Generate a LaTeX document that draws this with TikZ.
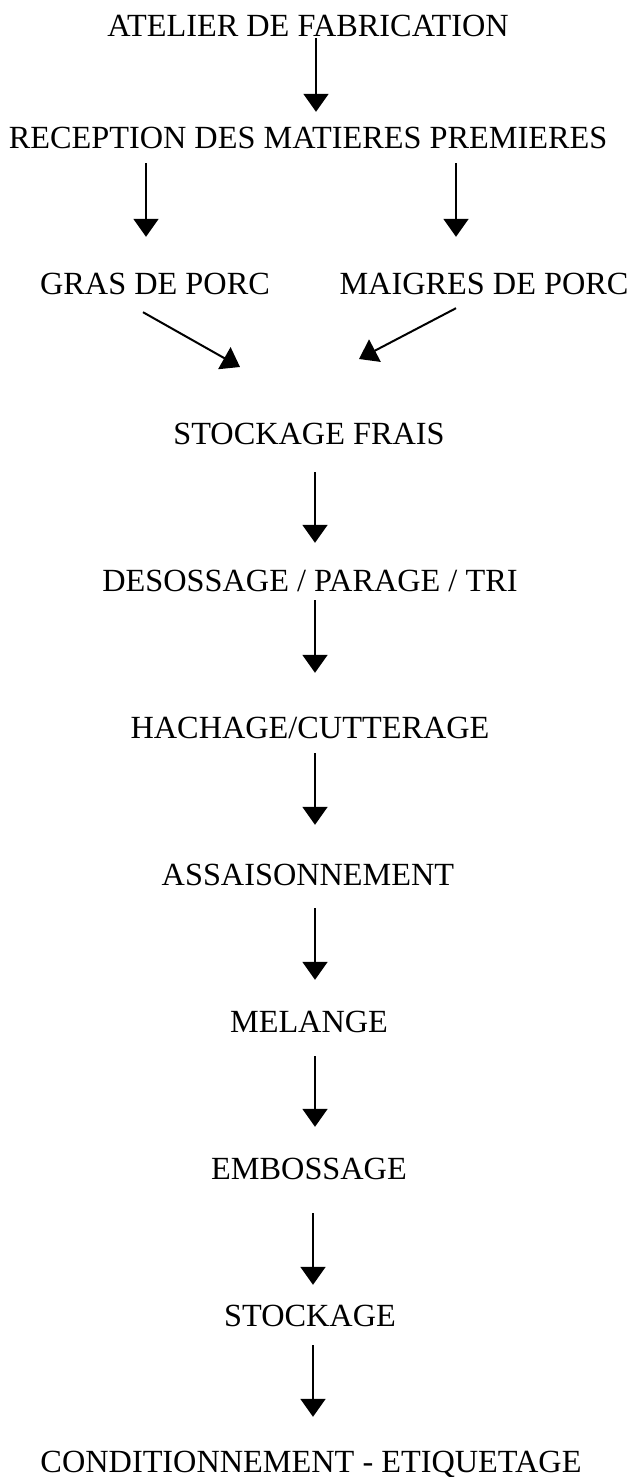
\documentclass[tikz,border=0pt]{standalone}
\usepackage{fontspec}
\setmainfont{Liberation Serif}
\usetikzlibrary{arrows.meta,calc}

\begin{document}
\begin{tikzpicture}[x=1pt,y=-1pt,
    etape/.style={inner sep=0pt, anchor=base, text height=21pt, text depth=0pt, font=\fontsize{32.3}{38}\selectfont},
    fleche/.style={-{Triangle[length=18pt,width=25pt]}, line width=2pt}
]
\useasboundingbox (0,0) rectangle (630,1477);

\node[etape] (atelier) at (308,37) {ATELIER DE FABRICATION};
\node[etape] (reception) at (308,148) {RECEPTION DES MATIERES PREMIERES};
\node[etape] (gras) at (155,294) {GRAS DE PORC};
\node[etape] (maigres) at (484,294) {MAIGRES DE PORC};
\node[etape] (frais) at (309,444) {STOCKAGE FRAIS};
\node[etape] (desossage) at (310,591) {DESOSSAGE / PARAGE / TRI};
\node[etape] (hachage) at (310,738) {HACHAGE/CUTTERAGE};
\node[etape] (assaisonnement) at (308,885) {ASSAISONNEMENT};
\node[etape] (melange) at (309,1032) {MELANGE};
\node[etape] (embossage) at (309,1179) {EMBOSSAGE};
\node[etape] (stockage) at (310,1326) {STOCKAGE};
\node[etape] (conditionnement) at (311,1472) {CONDITIONNEMENT - ETIQUETAGE};

% points d'arrivee au-dessus du stockage frais
\coordinate (joinL) at (240,367);
\coordinate (joinR) at (359,359);

\draw[fleche, shorten <=1pt, shorten >=15pt] ([xshift=8pt]atelier.south) -- ([xshift=8pt]reception.north);
\draw[fleche, shorten <=15pt, shorten >=36pt] ([xshift=-9pt]gras.north |- reception.south) -- ([xshift=-9pt]gras.north);
\draw[fleche, shorten <=15pt, shorten >=36pt] ([xshift=-28pt]maigres.north |- reception.south) -- ([xshift=-28pt]maigres.north);
\draw[fleche] ([shift={(-12,18)}]gras.south) -- (joinL);
\draw[fleche] ([shift={(-28,14)}]maigres.south) -- (joinR);
\draw[fleche, shorten <=28pt, shorten >=27pt] ([xshift=6pt]frais.south) -- ([xshift=5pt]desossage.north);
\draw[fleche, shorten <=9pt, shorten >=44pt] ([xshift=5pt]desossage.south) -- ([xshift=5pt]hachage.north);
\draw[fleche, shorten <=15pt, shorten >=39pt] ([xshift=5pt]hachage.south) -- ([xshift=7pt]assaisonnement.north);
\draw[fleche, shorten <=23pt, shorten >=31pt] ([xshift=7pt]assaisonnement.south) -- ([xshift=6pt]melange.north);
\draw[fleche, shorten <=24pt, shorten >=31pt] ([xshift=6pt]melange.south) -- ([xshift=6pt]embossage.north);
\draw[fleche, shorten <=34pt, shorten >=20pt] ([xshift=4pt]embossage.south) -- ([xshift=3pt]stockage.north);
\draw[fleche, shorten <=19pt, shorten >=34pt] ([xshift=3pt]stockage.south) -- ([xshift=2pt]conditionnement.north);

\end{tikzpicture}
\end{document}
